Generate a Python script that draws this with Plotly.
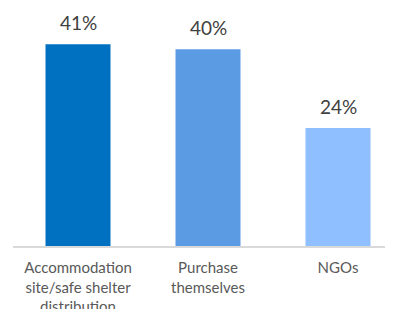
import plotly.graph_objects as go

categories = ["Accommodation<br>site/safe shelter<br>distribution", "Purchase<br>themselves", "NGOs"]
values = [41, 40, 24]
labels = ["41%", "40%", "24%"]
colors = ["#0070C0", "#5B9BE3", "#8FBFFF"]

fig = go.Figure()
fig.add_trace(go.Bar(
    x=[0, 1, 2], y=values, marker=dict(color=colors, line=dict(width=0)),
    width=0.5, hoverinfo="skip",
))
for i, (v, t) in enumerate(zip(values, labels)):
    fig.add_annotation(x=i, y=v, text=t, showarrow=False, yanchor="bottom",
                       yshift=8, font=dict(family="Lato", size=19, color="#404040"))

# page body has an 8px margin; figure sized to fit the 393x309 window
fig.update_layout(
    width=385, height=301,
    margin=dict(l=5, r=0, t=0, b=63),
    paper_bgcolor="white", plot_bgcolor="white",
    showlegend=False,
    font=dict(family="Lato", size=15, color="#595959"),
    xaxis=dict(range=[-0.5, 2.423], tickmode="array", tickvals=[0, 1, 2],
               ticktext=categories, showgrid=False, zeroline=False,
               showline=True, linecolor="#d9d9d9", linewidth=2,
               ticks="outside", ticklen=7, tickcolor="rgba(0,0,0,0)",
               automargin=False, tickangle=0),
    yaxis=dict(range=[0, 48.37], visible=False, showgrid=False, zeroline=False),
)
fig.write_html("out.html")
